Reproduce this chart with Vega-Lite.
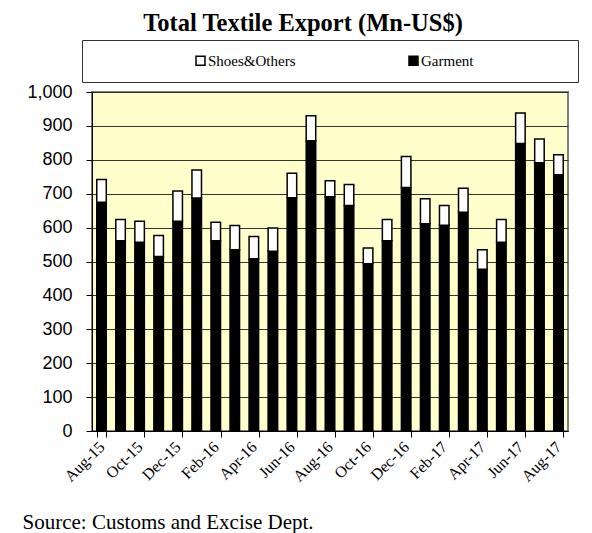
{
  "$schema": "https://vega.github.io/schema/vega-lite/v6.json",
  "autosize": {"type": "none"},
  "padding": {"left": 92, "top": 92, "right": 24, "bottom": 102},
  "width": 476,
  "height": 339,
  "background": "white",
  "title": {
    "text": "Total Textile Export (Mn-US$)",
    "font": "Liberation Serif",
    "fontSize": 24.5,
    "fontWeight": "bold",
    "color": "black",
    "anchor": "middle",
    "dx": -27,
    "offset": 3
  },
  "data": {
    "values": [
      {"month": "Aug-15", "type": "Garment", "value": 675}, {"month": "Aug-15", "type": "Shoes&Others", "value": 67},
      {"month": "Sep-15", "type": "Garment", "value": 561}, {"month": "Sep-15", "type": "Shoes&Others", "value": 63},
      {"month": "Oct-15", "type": "Garment", "value": 557}, {"month": "Oct-15", "type": "Shoes&Others", "value": 62},
      {"month": "Nov-15", "type": "Garment", "value": 515}, {"month": "Nov-15", "type": "Shoes&Others", "value": 62},
      {"month": "Dec-15", "type": "Garment", "value": 619}, {"month": "Dec-15", "type": "Shoes&Others", "value": 89},
      {"month": "Jan-16", "type": "Garment", "value": 687}, {"month": "Jan-16", "type": "Shoes&Others", "value": 83},
      {"month": "Feb-16", "type": "Garment", "value": 561}, {"month": "Feb-16", "type": "Shoes&Others", "value": 55},
      {"month": "Mar-16", "type": "Garment", "value": 535}, {"month": "Mar-16", "type": "Shoes&Others", "value": 71},
      {"month": "Apr-16", "type": "Garment", "value": 508}, {"month": "Apr-16", "type": "Shoes&Others", "value": 66},
      {"month": "May-16", "type": "Garment", "value": 530}, {"month": "May-16", "type": "Shoes&Others", "value": 69},
      {"month": "Jun-16", "type": "Garment", "value": 688}, {"month": "Jun-16", "type": "Shoes&Others", "value": 72},
      {"month": "Jul-16", "type": "Garment", "value": 856}, {"month": "Jul-16", "type": "Shoes&Others", "value": 74},
      {"month": "Aug-16", "type": "Garment", "value": 691}, {"month": "Aug-16", "type": "Shoes&Others", "value": 47},
      {"month": "Sep-16", "type": "Garment", "value": 665}, {"month": "Sep-16", "type": "Shoes&Others", "value": 62},
      {"month": "Oct-16", "type": "Garment", "value": 493}, {"month": "Oct-16", "type": "Shoes&Others", "value": 47},
      {"month": "Nov-16", "type": "Garment", "value": 561}, {"month": "Nov-16", "type": "Shoes&Others", "value": 63},
      {"month": "Dec-16", "type": "Garment", "value": 718}, {"month": "Dec-16", "type": "Shoes&Others", "value": 92},
      {"month": "Jan-17", "type": "Garment", "value": 611}, {"month": "Jan-17", "type": "Shoes&Others", "value": 74},
      {"month": "Feb-17", "type": "Garment", "value": 607}, {"month": "Feb-17", "type": "Shoes&Others", "value": 58},
      {"month": "Mar-17", "type": "Garment", "value": 645}, {"month": "Mar-17", "type": "Shoes&Others", "value": 71},
      {"month": "Apr-17", "type": "Garment", "value": 477}, {"month": "Apr-17", "type": "Shoes&Others", "value": 58},
      {"month": "May-17", "type": "Garment", "value": 557}, {"month": "May-17", "type": "Shoes&Others", "value": 67},
      {"month": "Jun-17", "type": "Garment", "value": 848}, {"month": "Jun-17", "type": "Shoes&Others", "value": 90},
      {"month": "Jul-17", "type": "Garment", "value": 791}, {"month": "Jul-17", "type": "Shoes&Others", "value": 70},
      {"month": "Aug-17", "type": "Garment", "value": 756}, {"month": "Aug-17", "type": "Shoes&Others", "value": 59}
    ]
  },
  "mark": {"type": "bar", "stroke": "black", "strokeWidth": 1.5},
  "encoding": {
    "x": {
      "field": "month",
      "type": "ordinal",
      "sort": null,
      "scale": {"paddingInner": 0.5, "paddingOuter": 0.25},
      "axis": {
        "values": ["Aug-15", "Oct-15", "Dec-15", "Feb-16", "Apr-16", "Jun-16", "Aug-16", "Oct-16", "Dec-16", "Feb-17", "Apr-17", "Jun-17", "Aug-17"],
        "tickBand": "extent",
        "labelAngle": -45,
        "labelAlign": "right",
        "labelBaseline": "middle",
        "labelFont": "Liberation Serif",
        "labelFontSize": 16,
        "labelColor": "black",
        "labelPadding": 7,
        "tickColor": "black",
        "tickSize": 6,
        "domainColor": "black",
        "domainWidth": 1,
        "grid": false,
        "title": "Source: Customs and Excise Dept.",
        "titleFont": "Liberation Serif",
        "titleFontSize": 21,
        "titleFontWeight": "normal",
        "titleColor": "black",
        "titleAnchor": "start",
        "titleAlign": "left",
        "titleBaseline": "alphabetic",
        "titleX": -70,
        "titleY": 97
      }
    },
    "y": {
      "field": "value",
      "type": "quantitative",
      "stack": "zero",
      "scale": {"domain": [0, 1000], "nice": false},
      "axis": {
        "values": [0, 100, 200, 300, 400, 500, 600, 700, 800, 900, 1000],
        "format": ",d",
        "labelFont": "Liberation Sans",
        "labelFontSize": 18,
        "labelColor": "black",
        "labelPadding": 14,
        "tickColor": "black",
        "tickSize": 6,
        "domainColor": "black",
        "grid": true,
        "gridColor": "#333333",
        "gridWidth": 1,
        "gridOpacity": 1,
        "title": null
      }
    },
    "color": {
      "field": "type",
      "type": "nominal",
      "scale": {"domain": ["Shoes&Others", "Garment"], "range": ["white", "black"]},
      "legend": {
        "orient": "top",
        "direction": "horizontal",
        "offset": 10,
        "title": "\u00a0",
        "titleOrient": "right",
        "titlePadding": 92,
        "titleFontSize": 15,
        "padding": 13,
        "strokeColor": "#333333",
        "symbolType": "square",
        "symbolSize": 81,
        "symbolStrokeColor": "black",
        "symbolStrokeWidth": 1.5,
        "symbolOffset": 98,
        "labelOffset": 0,
        "labelFont": "Liberation Serif",
        "labelFontSize": 15,
        "labelColor": "black",
        "columnPadding": 12
      }
    },
    "order": {"field": "type", "sort": "ascending"}
  },
  "config": {
    "view": {"fill": "#FFFFCC", "stroke": "#808080", "strokeWidth": 2},
    "legend": {"layout": {"top": {"anchor": "middle"}}}
  }
}
